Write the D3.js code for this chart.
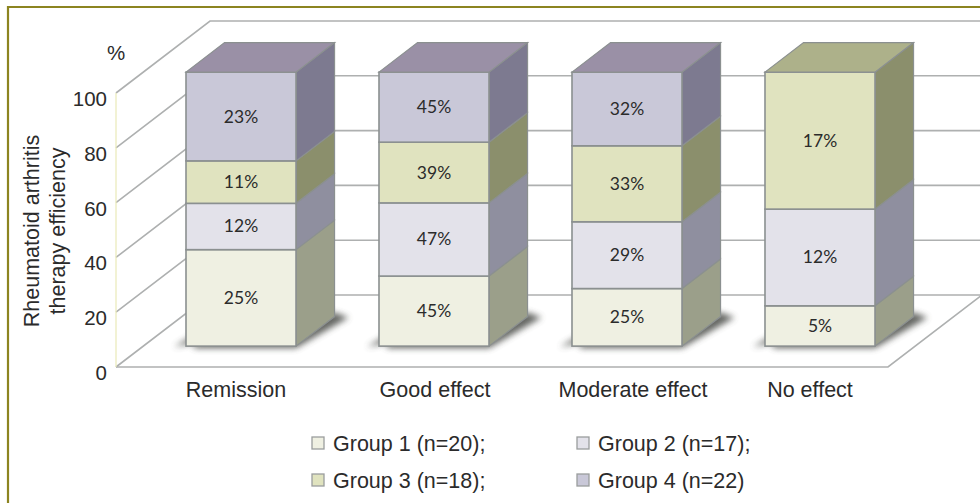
<!DOCTYPE html>
<html>
<head>
<meta charset="utf-8">
<script src="https://cdn.jsdelivr.net/npm/d3@7"></script>
<style>
html, body { margin: 0; padding: 0; background: #fff; overflow: hidden; }
text { font-family: "Liberation Sans", Arial, sans-serif; fill: #2b2b2b; }
</style>
</head>
<body>
<div class="chart"></div>
<script>
const categories = ["Remission", "Good effect", "Moderate effect", "No effect"];
const group1 = [25, 45, 25, 5];
const group2 = [12, 47, 29, 12];
const group3 = [11, 39, 33, 17];
const group4 = [23, 45, 32, 0];
const groupKeys = ["g1", "g2", "g3", "g4"];
const legendLabels = ["Group 1 (n=20);", "Group 2 (n=17);", "Group 3 (n=18);", "Group 4 (n=22)"];
const yTicks = [0, 20, 40, 60, 80, 100];
const yTitle = ["Rheumatoid arthritis", "therapy efficiency"];

const width = 980;
const height = 503;

// colours per group
const frontColor = ["#eff0e2", "#e3e2ea", "#e0e3bf", "#c9c8d8"];
const sideColor = ["#9b9f8a", "#8f8f9f", "#8b8f6c", "#7d7a90"];
const topColor = ["#c4c6b0", "#b5b4c2", "#adb18a", "#9a90a6"];
const edge = "#8b9090";
const gridColor = "#aeb0b0";

// the fake 3d box: depth 0 is front of floor, depth 1 is the back wall
const depthX = 94;
const depthY = 72;
const barFront = 0.29;
const barBack = 0.70;
const labelNudge = [-5, 1, 6, -10];

const rows = categories.map((c, i) => ({
    cat: c, g1: group1[i], g2: group2[i], g3: group3[i], g4: group4[i]
}));

const stacked = d3.stack()
    .keys(groupKeys)
    .offset(d3.stackOffsetExpand)(rows);

const y = d3.scaleLinear().domain([0, 100]).range([367, 93]);
const x = d3.scaleBand()
    .domain(categories)
    .range([186 - depthX * barFront, 875 - depthX * barFront])
    .paddingInner(0.43);

const px = (xv, depth) => xv + depthX * depth;
const py = (v, depth) => y(v) - depthY * depth;
const pts = list => list.map(p => p.join(",")).join(" ");

const svg = d3.select(".chart")
    .append("svg")
    .attr("width", width)
    .attr("height", height);

const defs = svg.append("defs");
defs.append("filter")
    .attr("id", "soft")
    .attr("x", "-30%").attr("y", "-60%")
    .attr("width", "160%").attr("height", "220%")
    .append("feGaussianBlur")
    .attr("stdDeviation", 3);

// outer frame, runs off the page on the right and bottom
svg.append("path")
    .attr("d", `M${width + 5},7H8V${height + 5}`)
    .attr("fill", "none")
    .attr("stroke", "#8c8420")
    .attr("stroke-width", 2.2);

const xLeft = 116;
const xFloorRight = 888;

// back wall + left wall grid lines
const grid = svg.append("g").attr("fill", "none");
grid.selectAll(".wall")
    .data(yTicks)
    .enter()
    .append("polyline")
    .attr("points", d => pts([
        [px(xLeft, 0), py(d, 0)],
        [px(xLeft, 1), py(d, 1)],
        [d === 0 ? px(xFloorRight, 1) : width, py(d, 1)]
    ]))
    .attr("stroke", gridColor)
    .attr("stroke-width", 1.6);

// rest of the floor
grid.append("polyline")
    .attr("points", pts([
        [px(xFloorRight, 1), py(0, 1)],
        [px(xFloorRight, 0), py(0, 0)],
        [px(xLeft, 0), py(0, 0)]
    ]))
    .attr("stroke", gridColor)
    .attr("stroke-width", 1.6);

// pale yellow vertical axis
grid.append("line")
    .attr("x1", xLeft).attr("x2", xLeft)
    .attr("y1", y(100)).attr("y2", y(0))
    .attr("stroke", "#e9eab8")
    .attr("stroke-width", 1.2);

// y axis
svg.append("g")
    .attr("transform", `translate(${xLeft}, 6)`)
    .call(d3.axisLeft(y).tickValues(yTicks).tickSize(0).tickPadding(9))
    .call(g => g.select(".domain").remove())
    .selectAll("text")
    .style("font-size", "20.5px")
    .style("font-family", "'Liberation Sans', Arial, sans-serif")
    .attr("fill", "#2b2b2b");

svg.append("text")
    .attr("x", 116).attr("y", 60)
    .attr("text-anchor", "middle")
    .style("font-size", "20.5px")
    .text("%");

svg.append("g")
    .selectAll("text")
    .data(yTitle)
    .enter()
    .append("text")
    .attr("transform", (d, i) => `translate(${39 + i * 26}, 231) rotate(-90)`)
    .attr("text-anchor", "middle")
    .style("font-size", "21.5px")
    .text(d => d);

// bars
const bars = svg.append("g")
    .selectAll("g")
    .data(categories)
    .enter()
    .append("g");

bars.each(function (cat, ci) {
    const g = d3.select(this);
    const x0 = px(x(cat), barFront);
    const x1 = x0 + x.bandwidth();
    const segs = stacked
        .map((s, si) => ({
            si: si,
            value: rows[ci][groupKeys[si]],
            lo: s[ci][0] * 100,
            hi: s[ci][1] * 100
        }))
        .filter(s => s.value > 0);
    const dx = depthX * (barBack - barFront);
    const dy = depthY * (barBack - barFront);
    const yb = y(0) - depthY * barFront;

    // floor shadow, a wedge on each side of the bar
    g.append("polygon")
        .attr("points", pts([
            [x0 - 12, yb + 1], [x0 + 8, yb - 11], [x0 + 8, yb + 2],
            [x1, yb + 2], [x1 + dx + 14, yb - dy + 1], [x1 + dx, yb - dy - 4]
        ]))
        .attr("fill", "#4c4e48")
        .attr("opacity", 0.85)
        .attr("filter", "url(#soft)");

    segs.forEach(s => {
        const yLo = py(s.lo, barFront);
        const yHi = py(s.hi, barFront);
        g.append("polygon")
            .attr("points", pts([[x1, yLo], [x1 + dx, yLo - dy], [x1 + dx, yHi - dy], [x1, yHi]]))
            .attr("fill", sideColor[s.si])
            .attr("stroke", edge)
            .attr("stroke-width", 1.2);
        g.append("rect")
            .attr("x", x0)
            .attr("y", yHi)
            .attr("width", x.bandwidth())
            .attr("height", yLo - yHi)
            .attr("fill", frontColor[s.si])
            .attr("stroke", edge)
            .attr("stroke-width", 1.6);
        g.append("text")
            .attr("x", (x0 + x1) / 2)
            .attr("y", (yLo + yHi) / 2 + 6)
            .attr("text-anchor", "middle")
            .style("font-family", "Lato, sans-serif")
            .style("font-size", "17.5px")
            .attr("fill", "#1c1c1c")
            .text(s.value + "%");
    });

    const top = segs[segs.length - 1];
    const yTop = py(top.hi, barFront);
    g.append("polygon")
        .attr("points", pts([[x0, yTop], [x0 + dx, yTop - dy], [x1 + dx, yTop - dy], [x1, yTop]]))
        .attr("fill", topColor[top.si])
        .attr("stroke", edge)
        .attr("stroke-width", 1.2);
});

// category labels
svg.append("g")
    .selectAll("text")
    .data(categories)
    .enter()
    .append("text")
    .attr("x", (d, i) => px(x(d), barFront) + x.bandwidth() / 2 + labelNudge[i])
    .attr("y", 397)
    .attr("text-anchor", "middle")
    .style("font-size", "21.5px")
    .text(d => d);

// legend, two columns
const legendX = d3.scalePoint().domain([0, 1]).range([312, 577]);
const legendY = d3.scalePoint().domain([0, 1]).range([443, 480]);
const legend = svg.append("g")
    .selectAll("g")
    .data(legendLabels)
    .enter()
    .append("g")
    .attr("transform", (d, i) => `translate(${legendX(i % 2)}, ${legendY(Math.floor(i / 2))})`);

legend.append("rect")
    .attr("x", 0).attr("y", -6)
    .attr("width", 12).attr("height", 12)
    .attr("fill", (d, i) => frontColor[i])
    .attr("stroke", "#9a9d9d")
    .attr("stroke-width", 1.3);

legend.append("text")
    .attr("x", 21).attr("y", 8)
    .style("font-size", "21.5px")
    .text(d => d);
</script>
</body>
</html>
